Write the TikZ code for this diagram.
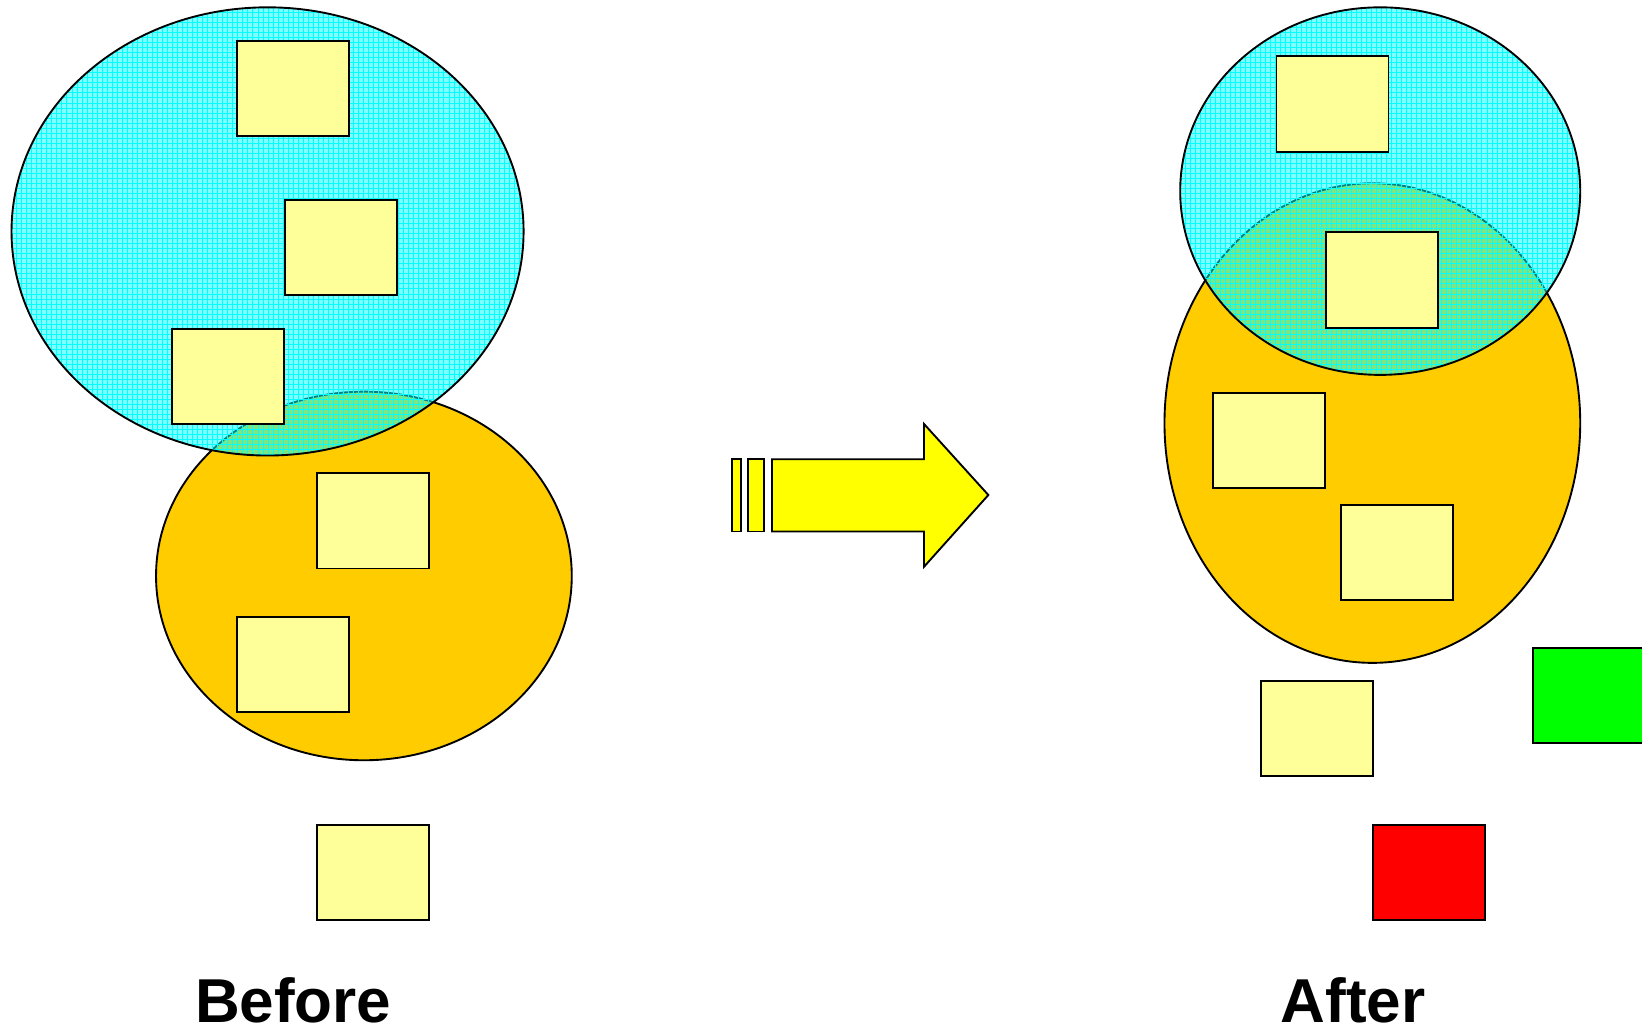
\documentclass[tikz,border=0pt]{standalone}
\usepackage{fontspec}
\setmainfont{Liberation Sans}
\usetikzlibrary{positioning}

\definecolor{paleyellow}{RGB}{255,255,153}
\definecolor{setorange}{RGB}{255,204,0}
\definecolor{setcyan}{RGB}{0,255,255}
\definecolor{arrowyellow}{RGB}{255,255,0}
\definecolor{okgreen}{RGB}{0,255,0}
\definecolor{badred}{RGB}{255,0,0}

\begin{document}
\begin{tikzpicture}[
		x=0.5pt, y=-0.5pt,
		card/.style={rectangle, draw, line width=0.9pt, fill=paleyellow, minimum width=53.5pt, minimum height=45.5pt, inner sep=0pt, anchor=north west},
		orangeset/.style={draw, line width=0.9pt, fill=setorange},
		cyanfill/.style={fill=setcyan, fill opacity=0.5},
		gridline/.style={setcyan, line width=0.3pt},
		outline/.style={draw, line width=0.9pt},
		arrowpart/.style={draw, line width=0.9pt, fill=arrowyellow},
		label/.style={font=\fontsize{29.6}{32}\selectfont\bfseries, anchor=base, inner sep=0pt}
		]
		
		\useasboundingbox (0,0) rectangle (1568,983);
		\clip (0,0) rectangle (1568,983);
		
		% Before: lower set
		\draw[orangeset] (347.5,550) ellipse [x radius=198.5, y radius=176];
		
		% Before: upper set, see-through with grid
		\begin{scope}
			\clip (255.5,221) ellipse [x radius=244.5, y radius=214];
			\fill[cyanfill] (11,7) rectangle (500,435);
			\foreach \gx in {11,15.8,...,500} \draw[gridline] (\gx,7) -- (\gx,435);
			\foreach \gy in {7,11.8,...,435} \draw[gridline] (11,\gy) -- (500,\gy);
		\end{scope}
		\draw[outline] (255.5,221) ellipse [x radius=244.5, y radius=214];
		
		% Before: items
		\node[card] (b1) at (225,38) {};
		\node[card] (b2) at (271,190) {};
		\node[card] (b3) at (163,313) {};
		\node[card] (b4) at (302,451) {};
		\node[card] (b5) at (225,588) {};
		\node[card] (b6) at (302,787) {};
		
		% Arrow with two stripes
		\draw[arrowpart] (698.7,438.6) rectangle (707.3,507.5);
		\draw[arrowpart] (714.3,438.6) rectangle (729.8,507.5);
		\draw[arrowpart] (737.2,438.6) -- (882.4,438.6) -- (882.4,404.9)
			-- (943.8,472.7) -- (882.4,541.2) -- (882.4,507.5) -- (737.2,507.5) -- cycle;
		
		% After: lower set
		\draw[orangeset] (1310.5,404) ellipse [x radius=198.5, y radius=229];
		
		% After: upper set, see-through with grid
		\begin{scope}
			\clip (1318,182.5) ellipse [x radius=191, y radius=175.5];
			\fill[cyanfill] (1127,7) rectangle (1509,358);
			\foreach \gx in {1127,1131.8,...,1509} \draw[gridline] (\gx,7) -- (\gx,358);
			\foreach \gy in {7,11.8,...,358} \draw[gridline] (1127,\gy) -- (1509,\gy);
		\end{scope}
		\draw[outline] (1318,182.5) ellipse [x radius=191, y radius=175.5];
		
		% After: items
		\node[card] (a1) at (1218,53) {};
		\node[card] (a2) at (1265,221) {};
		\node[card] (a3) at (1157,374) {};
		\node[card] (a4) at (1280,481) {};
		\node[card] (a5) at (1203,649) {};
		\node[card, fill=badred] (a6) at (1310,787) {};
		\node[card, fill=okgreen] (a7) at (1463,618) {};
		
		% Captions
		\node[label] (before) at (280,976) {Before};
		\node[label] (after) at (1292,976) {After};
		
	\end{tikzpicture}
\end{document}
